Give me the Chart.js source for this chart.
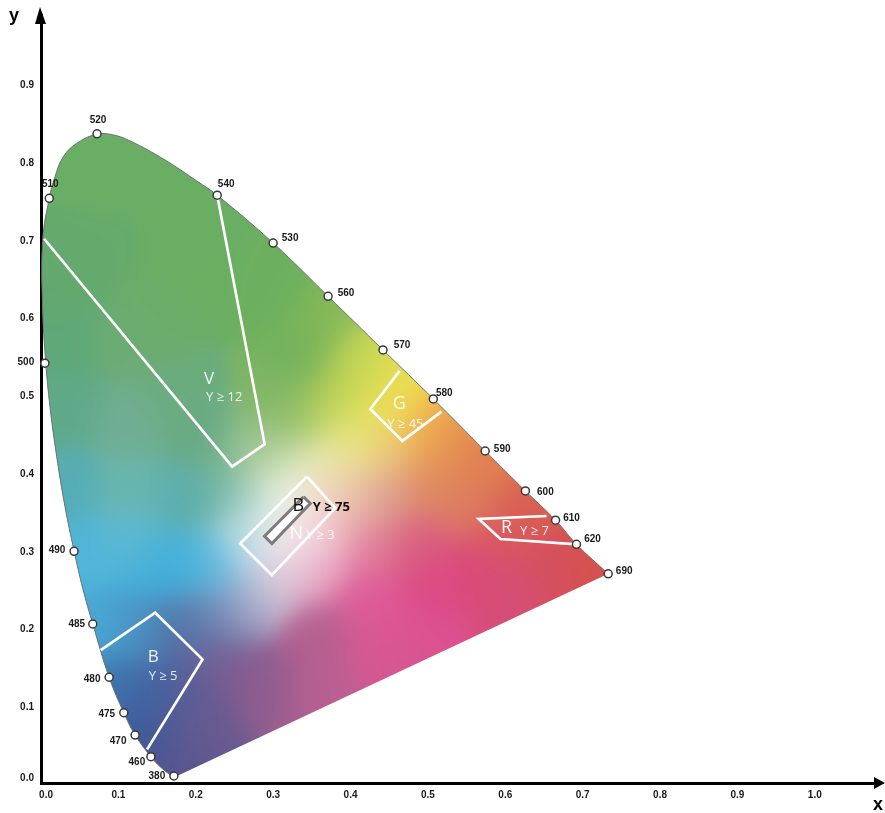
<!DOCTYPE html>
<html>
<head>
<meta charset="utf-8">
<title>CIE chromaticity diagram</title>
<script src="https://cdn.jsdelivr.net/npm/chart.js@4"></script>
<style>
  html, body { margin: 0; padding: 0; background: #fff; }
  canvas { display: block; }
</style>
</head>
<body>
<canvas id="cieChart" width="885" height="813"></canvas>
<script>
// tick labels, the two 0.0 labels sit a bit inside the corner like the original
const xTickValues = [0.0065, 0.1, 0.2, 0.3, 0.4, 0.5, 0.6, 0.7, 0.8, 0.9, 1.0];
const xTickLabels = ['0.0', '0.1', '0.2', '0.3', '0.4', '0.5', '0.6', '0.7', '0.8', '0.9', '1.0'];
const yTickValues = [0.009, 0.1, 0.2, 0.3, 0.4, 0.5, 0.6, 0.7, 0.8, 0.9];
const yTickLabels = ['0.0', '0.1', '0.2', '0.3', '0.4', '0.5', '0.6', '0.7', '0.8', '0.9'];

// spectral curve, from the violet end round to the red end
const locusX = [0.1717, 0.155, 0.142, 0.1216, 0.107, 0.088, 0.0669, 0.054, 0.0427, 0.031, 0.0203, 0.0116, 0.0061, 0.002, 0.0022, 0.0107, 0.0181, 0.0288, 0.0462, 0.0721, 0.0935, 0.1151, 0.1582, 0.2014, 0.2277, 0.30, 0.371, 0.442, 0.507, 0.574, 0.626, 0.665, 0.692, 0.733];
const locusY = [0.007, 0.02, 0.0338, 0.0617, 0.0904, 0.136, 0.2045, 0.25, 0.2988, 0.3554, 0.4197, 0.484, 0.5415, 0.6126, 0.6984, 0.752, 0.7798, 0.8055, 0.8228, 0.8345, 0.8335, 0.8258, 0.8026, 0.7743, 0.756, 0.6945, 0.626, 0.557, 0.494, 0.427, 0.3756, 0.338, 0.307, 0.269];

// wavelength markers
const waveLabels = ['520', '510', '540', '530', '560', '570', '580', '590', '600', '610', '620', '690', '500', '490', '485', '480', '475', '470', '460', '380'];
const waveX = [0.0724, 0.0107, 0.2277, 0.300, 0.371, 0.442, 0.507, 0.574, 0.626, 0.665, 0.692, 0.733, 0.005, 0.0427, 0.0669, 0.088, 0.107, 0.1216, 0.142, 0.1717];
const waveY = [0.835, 0.752, 0.756, 0.6945, 0.626, 0.557, 0.494, 0.427, 0.3756, 0.338, 0.307, 0.269, 0.540, 0.298, 0.2045, 0.136, 0.0904, 0.0617, 0.0338, 0.009];

// colour regions
const regionV = [[0.004, 0.70], [0.247, 0.407], [0.289, 0.436], [0.2277, 0.756]];
const regionG = [[0.4635, 0.530], [0.4256, 0.481], [0.467, 0.44], [0.5175, 0.4776]];
const regionN = [[0.3437, 0.394], [0.2574, 0.308], [0.2984, 0.2675], [0.3803, 0.3537], [0.3437, 0.394]];
const regionR = [[0.6533, 0.3434], [0.5657, 0.3396], [0.5938, 0.3138], [0.6925, 0.3068]];
const regionB = [[0.0772, 0.171], [0.1475, 0.219], [0.2087, 0.159], [0.1371, 0.0433]];
const regionWhite = [[0.3393, 0.368], [0.348, 0.3596], [0.2984, 0.308], [0.2888, 0.3175], [0.3393, 0.368]];

// region captions
const captionText = ['V', 'Y ≥ 12', 'G', 'Y ≥ 45', 'B', 'Y ≥ 75', 'N', 'Y ≥ 3', 'R', 'Y ≥ 7', 'B', 'Y ≥ 5'];
const captionX = [0.2173, 0.2367, 0.463, 0.4709, 0.3325, 0.3752, 0.3299, 0.361, 0.6016, 0.6378, 0.1449, 0.1578];
const captionY = [0.5196, 0.4964, 0.4875, 0.4618, 0.3563, 0.355, 0.3203, 0.318, 0.3280, 0.3241, 0.1621, 0.1376];

// label placement and look, kept apart from the data
const waveOffsets = [[1, -14], [1, -14], [9, -11], [17, -5], [18, -3], [19, -5], [11, -6], [17, -2], [20, 1], [16, -2], [16, -5], [16, -3], [-19, -1], [-17, -1], [-16, 0], [-17, 2], [-17, 2], [-17, 6], [-14, 6], [-17, 0]];
const captionStyles = [
  ['17px', 'rgba(255,255,255,0.9)'], ['13px', 'rgba(255,255,255,0.85)'],
  ['18px', 'rgba(255,255,255,0.9)'], ['13px', 'rgba(255,255,255,0.85)'],
  ['18px', '#111'], ['bold 13px', '#111'],
  ['18px', 'rgba(255,255,255,0.9)'], ['13px', 'rgba(255,255,255,0.8)'],
  ['18px', 'rgba(255,255,255,0.95)'], ['13px', 'rgba(255,255,255,0.9)'],
  ['17px', 'rgba(255,255,255,0.9)'], ['13px', 'rgba(255,255,255,0.85)']
];

// colour samples taken across the horseshoe: x, y, colour
const colorAnchors = [
  [0.07, 0.80, '#6aae65'], [0.20, 0.72, '#6aae64'], [0.05, 0.68, '#66aa6c'], [0.15, 0.60, '#6aad68'],
  [0.30, 0.64, '#6cb05f'], [0.37, 0.60, '#84b857'], [0.34, 0.55, '#72b15c'], [0.42, 0.55, '#c8d956'],
  [0.40, 0.52, '#b4cf56'], [0.45, 0.52, '#ece050'], [0.44, 0.49, '#f4df52'], [0.49, 0.46, '#f2bb4f'],
  [0.0285, 0.656, '#62a86e'], [0.20, 0.656, '#6aae62'], [0.0285, 0.57, '#5fa877'], [0.115, 0.57, '#6cac75'],
  [0.0285, 0.484, '#5fa98a'], [0.115, 0.463, '#70ae93'], [0.115, 0.377, '#6ab6ae'], [0.115, 0.312, '#5fbad4'],
  [0.17, 0.50, '#6bac7e'], [0.03, 0.38, '#55adb5'], [0.05, 0.30, '#4fb5da'],
  [0.08, 0.20, '#48a8d4'], [0.13, 0.20, '#4d8ec0'], [0.10, 0.13, '#3f75ac'],
  [0.13, 0.10, '#3d5fa0'], [0.14, 0.05, '#3c5898'], [0.17, 0.03, '#5f558e'], [0.20, 0.08, '#6a5a90'],
  [0.17, 0.12, '#505f9a'], [0.2057, 0.45, '#68aa84'], [0.184, 0.364, '#5aadad'], [0.197, 0.278, '#3fb0dc'],
  [0.141, 0.278, '#40aedb'], [0.24, 0.373, '#6fb3a0'], [0.27, 0.342, '#b0d8d8'], [0.27, 0.309, '#cfe4ee'],
  [0.2316, 0.283, '#6cbfe0'], [0.292, 0.257, '#c8c0d5'], [0.249, 0.226, '#9a9cc0'], [0.206, 0.2135, '#5f86b5'],
  [0.184, 0.193, '#4f68a0'], [0.228, 0.158, '#7a5a90'], [0.357, 0.193, '#b4608f'], [0.292, 0.129, '#8c5d8f'],
  [0.378, 0.129, '#c05f92'], [0.4424, 0.171, '#dc5893'], [0.507, 0.265, '#dc4a84'], [0.4217, 0.2354, '#de5a98'],
  [0.357, 0.278, '#e593b5'], [0.322, 0.29, '#e8d0dc'], [0.4217, 0.309, '#e0789a'], [0.4864, 0.3125, '#d9607f'],
  [0.4424, 0.364, '#dc9a88'], [0.40, 0.364, '#e8c0b0'], [0.507, 0.386, '#df8d60'], [0.4424, 0.428, '#eabb85'],
  [0.52, 0.441, '#e58f50'], [0.40, 0.437, '#ecec90'], [0.4166, 0.463, '#e6e860'], [0.361, 0.4154, '#ebecb0'],
  [0.326, 0.3936, '#f0f3df'], [0.305, 0.373, '#e4eee0'], [0.296, 0.419, '#b8d4a0'], [0.27, 0.428, '#8ebc8e'],
  [0.322, 0.458, '#96c069'], [0.37, 0.48, '#b8cf55'], [0.305, 0.4926, '#7eb565'], [0.313, 0.3215, '#ffffff'],
  [0.335, 0.351, '#f8f0e8'], [0.339, 0.316, '#f4dde8'], [0.37, 0.334, '#eeb8c4'], [0.378, 0.386, '#eecfa8'],
  [0.57, 0.41, '#e17f4f'], [0.63, 0.36, '#d8604f'], [0.70, 0.29, '#d5514e'], [0.60, 0.32, '#d9585f'],
  [0.55, 0.36, '#dd7a62'], [0.56, 0.27, '#d94a78'], [0.65, 0.28, '#d44f60'], [0.50, 0.20, '#dd5090'],
  [0.60, 0.24, '#d64e78'], [0.35, 0.12, '#b05f90'], [0.45, 0.15, '#d25692']
];

function toPoints(list) {
  return list.map(([x, y]) => ({ x, y }));
}

function region(data, extra) {
  return Object.assign({
    data: toPoints(data),
    showLine: true,
    pointRadius: 0,
    borderColor: '#fff',
    borderWidth: 2.7,
    borderJoinStyle: 'miter',
    order: 3
  }, extra);
}

// blends the colour samples on a small buffer with a gaussian weight
function buildColorField(chart) {
  const { x, y } = chart.scales;
  const step = 3;
  const sigma = 0.03;
  const buffer = document.createElement('canvas');
  buffer.width = Math.ceil(chart.width / step);
  buffer.height = Math.ceil(chart.height / step);
  const bufferCtx = buffer.getContext('2d');
  const image = bufferCtx.createImageData(buffer.width, buffer.height);
  const anchors = colorAnchors.map(([ax, ay, hex]) => ({
    x: ax,
    y: ay,
    r: parseInt(hex.slice(1, 3), 16),
    g: parseInt(hex.slice(3, 5), 16),
    b: parseInt(hex.slice(5, 7), 16)
  }));
  for (let row = 0; row < buffer.height; row++) {
    const vy = y.getValueForPixel(row * step);
    for (let col = 0; col < buffer.width; col++) {
      const vx = x.getValueForPixel(col * step);
      let total = 1e-12, r = 0, g = 0, b = 0;
      for (const a of anchors) {
        const d2 = (vx - a.x) * (vx - a.x) + (vy - a.y) * (vy - a.y);
        const w = Math.exp(-d2 / (2 * sigma * sigma)) + 1e-7 / (d2 + 1e-3);
        total += w;
        r += w * a.r;
        g += w * a.g;
        b += w * a.b;
      }
      const at = (row * buffer.width + col) * 4;
      image.data[at] = r / total;
      image.data[at + 1] = g / total;
      image.data[at + 2] = b / total;
      image.data[at + 3] = 255;
    }
  }
  bufferCtx.putImageData(image, 0, 0);
  return buffer;
}

// paints the coloured horseshoe, clipped to the locus dataset
const horseshoeFill = {
  id: 'horseshoeFill',
  beforeDatasetsDraw(chart) {
    const { ctx } = chart;
    const line = chart.getDatasetMeta(0).dataset;
    line.updateControlPoints(chart.chartArea, 'x');
    ctx.save();
    ctx.beginPath();
    line.path(ctx);
    ctx.closePath();
    ctx.clip();
    ctx.imageSmoothingEnabled = true;
    ctx.imageSmoothingQuality = 'high';
    const field = buildColorField(chart);
    ctx.drawImage(field, 0, 0, field.width * 3, field.height * 3);
    ctx.restore();
  }
};

// arrowheads, axis letters, marker labels and region captions
const annotations = {
  id: 'annotations',
  afterDraw(chart) {
    const { ctx, chartArea: area, scales: { x, y } } = chart;
    ctx.save();
    ctx.fillStyle = '#000';
    ctx.beginPath();
    ctx.moveTo(area.left - 1, 7);
    ctx.lineTo(area.left + 5, 24);
    ctx.lineTo(area.left - 6, 24);
    ctx.closePath();
    ctx.fill();
    ctx.beginPath();
    ctx.moveTo(885, area.bottom);
    ctx.lineTo(874, area.bottom - 6);
    ctx.lineTo(874, area.bottom + 6);
    ctx.closePath();
    ctx.fill();

    ctx.textAlign = 'center';
    ctx.textBaseline = 'middle';
    ctx.font = 'bold 18px "Liberation Sans"';
    ctx.fillText('y', 14, 16);
    ctx.fillText('x', 878, 805);

    const points = chart.getDatasetMeta(chart.data.datasets.length - 1).data;
    ctx.font = 'bold 10px "Liberation Sans"';
    ctx.fillStyle = '#1a1a1a';
    waveLabels.forEach((text, i) => {
      ctx.fillText(text, points[i].x + waveOffsets[i][0], points[i].y + waveOffsets[i][1]);
    });

    captionText.forEach((text, i) => {
      ctx.font = captionStyles[i][0] + ' "Open Sans"';
      ctx.fillStyle = captionStyles[i][1];
      ctx.fillText(text, x.getPixelForValue(captionX[i]), y.getPixelForValue(captionY[i]));
    });
    ctx.restore();
  }
};

function axisOptions(values, labels, min, max, size, padding, labelOffset) {
  return {
    type: 'linear',
    min,
    max,
    afterBuildTicks: scale => { scale.ticks = values.map(value => ({ value })); },
    afterFit: scale => {
      if (scale.isHorizontal()) scale.height = size;
      else scale.width = size;
    },
    grid: { display: false, drawTicks: false },
    border: { display: true, color: '#000', width: 3 },
    ticks: {
      autoSkip: false,
      maxRotation: 0,
      padding,
      labelOffset,
      color: '#1a1a1a',
      font: { family: '"Liberation Sans"', size: 10, weight: 'bold' },
      callback: (value, index) => labels[index]
    }
  };
}

new Chart(document.getElementById('cieChart'), {
  type: 'scatter',
  data: {
    datasets: [
      {
        data: locusX.map((x, i) => ({ x, y: locusY[i] })),
        showLine: true,
        tension: 0.4,
        pointRadius: 0,
        borderColor: '#6e6e6e',
        borderWidth: 1,
        clip: false,
        order: 5
      },
      region(regionV),
      region(regionG),
      region(regionN),
      region(regionR),
      region(regionB),
      region(regionWhite, { borderColor: '#7d7d7d', borderWidth: 3, backgroundColor: '#fff', fill: 'shape', order: 2 }),
      {
        data: waveX.map((x, i) => ({ x, y: waveY[i] })),
        pointRadius: 4,
        pointBackgroundColor: '#fff',
        pointBorderColor: '#3a3a3a',
        pointBorderWidth: 1.5,
        clip: false,
        order: 1
      }
    ]
  },
  options: {
    responsive: false,
    animation: false,
    layout: { padding: { top: 15, left: 0, right: 0, bottom: 0 } },
    plugins: { legend: { display: false }, tooltip: { enabled: false } },
    scales: {
      x: axisOptions(xTickValues, xTickLabels, 0, 1.0836, 30, 6, 0),
      y: axisOptions(yTickValues, yTickLabels, 0, 0.9878, 41, 7, 2)
    }
  },
  plugins: [horseshoeFill, annotations]
});
</script>
</body>
</html>
